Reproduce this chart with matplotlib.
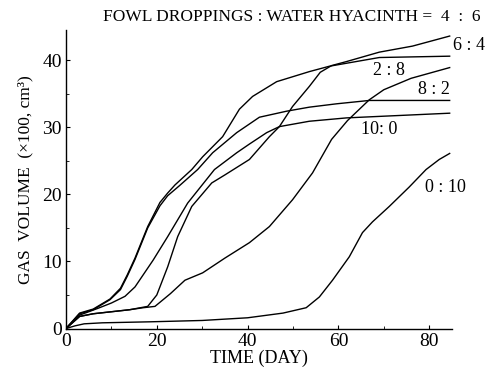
import matplotlib
matplotlib.use("Agg")
import matplotlib.pyplot as plt
from matplotlib.ticker import MultipleLocator

plt.rcParams['font.family'] = ['Liberation Serif', 'DejaVu Serif']

# Series (day, gas volume x100 cm3)
day_64 = [0, 3, 6, 10, 14, 18, 20, 22.4, 24.6, 27.7, 32.1, 35, 40.4, 44.8, 47, 49.9, 53.6, 56, 58.5, 61.8, 69, 76.3, 84.5]
vol_64 = [0, 1.8, 2.2, 2.5, 2.8, 3.3, 5.0, 9.2, 13.7, 18.2, 21.7, 22.9, 25.2, 28.6, 30.1, 33.1, 36.1, 38.2, 39.2, 39.8, 41.2, 42.1, 43.6]

day_28 = [0, 3, 6, 9.7, 12, 13.5, 15.2, 18, 20.7, 22.4, 24, 27.7, 30.1, 34.5, 38.2, 41.1, 46.4, 53.6, 58, 69, 84.5]
vol_28 = [0, 2.3, 2.9, 4.4, 6.0, 8.0, 10.5, 15.2, 18.8, 20.2, 21.4, 23.7, 25.6, 28.6, 32.7, 34.6, 36.8, 38.3, 39.1, 40.4, 40.6]

day_82 = [0, 3, 6, 10, 14, 17, 19.6, 23, 26.2, 30.1, 35, 40.4, 44.8, 49.9, 54.3, 58.5, 62, 66.8, 70, 76, 84.5]
vol_82 = [0, 1.8, 2.2, 2.5, 2.8, 3.1, 3.3, 5.2, 7.2, 8.3, 10.5, 12.8, 15.2, 19.2, 23.2, 28.2, 31.0, 34.1, 35.6, 37.3, 38.9]

day_46 = [0, 3, 6, 9.7, 12, 13.5, 15.2, 18, 20.7, 22.4, 25, 29, 32.3, 37.6, 42.6, 48.6, 53.6, 59.6, 66.8, 84.5]
vol_46 = [0, 2.2, 2.8, 4.3, 5.8, 7.8, 10.3, 15.0, 18.3, 19.8, 21.3, 23.7, 26.2, 29.2, 31.5, 32.4, 33.0, 33.5, 34.0, 34.0]

day_100 = [0, 3, 7, 10, 13, 15.2, 19.2, 22.4, 26.8, 32.7, 37.6, 40.4, 44.2, 47, 53.6, 61.8, 84.5]
vol_100 = [0, 2.0, 3.0, 3.8, 4.8, 6.2, 10.2, 13.7, 18.7, 23.7, 26.2, 27.5, 29.2, 30.1, 30.9, 31.4, 32.1]

day_010 = [0, 2, 4, 8, 18.5, 30, 40, 47.8, 52.9, 55.8, 58.7, 62.4, 65.3, 67.5, 71.2, 75.6, 79.3, 82.2, 84.5]
vol_010 = [0, 0.4, 0.7, 0.85, 1.0, 1.2, 1.6, 2.3, 3.1, 4.7, 7.2, 10.7, 14.3, 15.9, 18.2, 21.1, 23.7, 25.2, 26.1]

labels = ["6 : 4", "2 : 8", "8 : 2", "10: 0", "0 : 10"]
label_pos = [(88.8, 42.2), (71.2, 38.5), (81.1, 35.6), (69.0, 29.7), (83.5, 21.0)]

x_ticks = [0, 20, 40, 60, 80]
y_ticks = [0, 10, 20, 30, 40]

fig = plt.figure(figsize=(4.95, 3.79), dpi=100)
ax = fig.add_axes([0.1333, 0.1332, 0.7797, 0.7876])

for d, v in [(day_64, vol_64), (day_28, vol_28), (day_82, vol_82),
             (day_46, vol_46), (day_100, vol_100), (day_010, vol_010)]:
    ax.plot(d, v, color='black', lw=1.0)

for t, (x, y) in zip(labels, label_pos):
    ax.text(x, y, t, ha='center', va='center', fontsize=13, clip_on=False)

ax.set_xlim(0, 85)
ax.set_ylim(0, 44.5)
ax.set_xticks(x_ticks)
ax.set_yticks(y_ticks)
ax.xaxis.set_minor_locator(MultipleLocator(10))
ax.yaxis.set_minor_locator(MultipleLocator(5))
ax.tick_params(direction='in', length=3, width=0.8, labelsize=14, pad=3)
ax.tick_params(which='minor', direction='in', length=2, width=0.6)
for s in ['top', 'right']:
    ax.spines[s].set_visible(False)
for s in ['left', 'bottom']:
    ax.spines[s].set_linewidth(1.0)

ax.set_xlabel("TIME (DAY)", fontsize=13, labelpad=0)
ax.set_ylabel("GAS  VOLUME  (×100, cm³)", fontsize=12.5, labelpad=6)
fig.text(0.59, 0.955, "FOWL DROPPINGS : WATER HYACINTH =  4  :  6", ha='center', va='center', fontsize=12.5)

fig.savefig("out.png", dpi=100)
